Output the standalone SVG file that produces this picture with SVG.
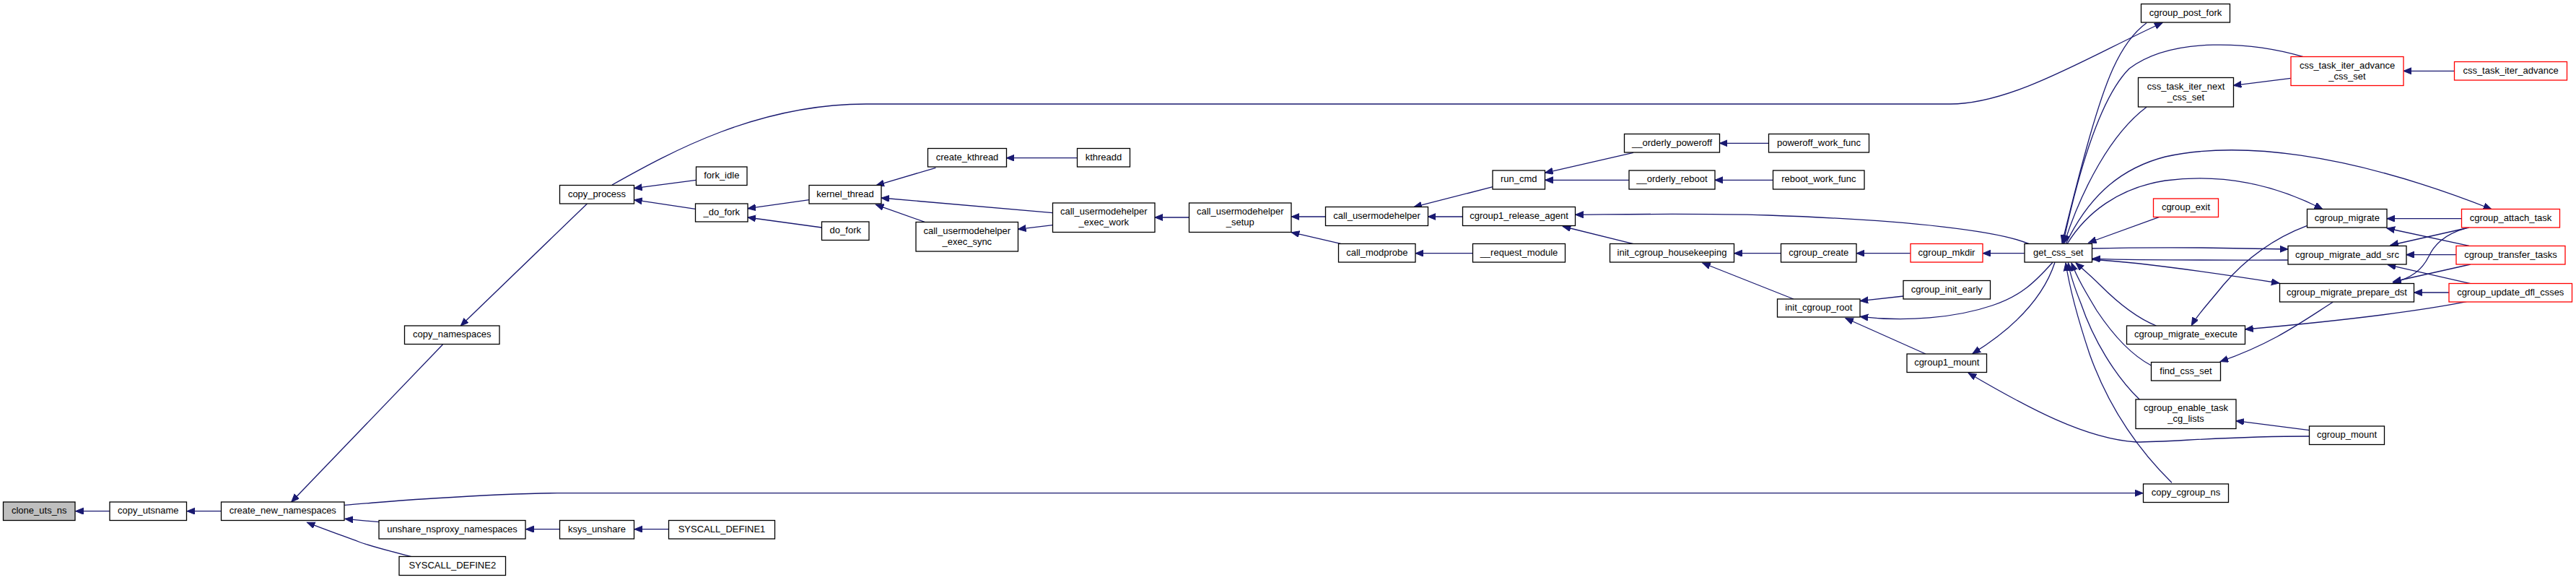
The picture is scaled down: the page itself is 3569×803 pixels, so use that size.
<svg xmlns="http://www.w3.org/2000/svg" width="3569" height="803" viewBox="0 0 3569 803">
<style>
.n rect{fill:#fff;stroke:#000;stroke-width:1.3}
.r rect{stroke:#f00}
.root rect{fill:#bfbfbf}
text{font-family:"Liberation Sans",Arial,Helvetica,sans-serif;font-size:13px;text-anchor:middle;fill:#000}
#edges path{fill:none;stroke:#191970;stroke-width:1.3;marker-end:url(#a)}
</style>
<defs>
<marker id="a" markerWidth="14" markerHeight="12" refX="11" refY="4.5" orient="auto" markerUnits="userSpaceOnUse">
<path d="M0,0 L11,4.5 L0,9 z" fill="#191970" stroke="#191970" stroke-width="1"/>
</marker>
</defs>
<rect width="3569" height="803" fill="#fff"/>
<g id="edges">
<path d="M151.9,707.7 L104.6,707.7"/>
<path d="M306.5,707.7 L259,707.7"/>
<path d="M613.4,477 L403.7,695"/>
<path d="M525,722.7 L478,718.3"/>
<path d="M570,770.7 C540,763 510,755 497,750 C470,740 445,731 425.5,723.3"/>
<path d="M477.2,699.3 C520,696 560,692 600,690 C680,685 730,682.7 772,682.7 L2969,682.7"/>
<path d="M775.3,732.7 L728.5,732.7"/>
<path d="M926.4,732.7 L879,732.7"/>
<path d="M1121.2,276.7 L1036,288.7"/>
<path d="M1138.4,315 L1036,301"/>
<path d="M964.3,249.3 L878.6,260.7"/>
<path d="M963.5,289.3 L878.6,276.7"/>
<path d="M813.5,282 L638.3,451"/>
<path d="M848,256 C930,210 1050,144 1200,144 L2702,144 C2790,144 2900,75 2996,31.5"/>
<path d="M1296.4,232.3 L1214,256.7"/>
<path d="M1492.7,218.7 L1394.4,218.7"/>
<path d="M1458.3,294.7 L1221,274"/>
<path d="M1281.1,307.3 L1213.4,283.3"/>
<path d="M1458.3,311.7 L1410.5,317.3"/>
<path d="M1647.7,301 L1600,301"/>
<path d="M1836.7,300 L1789.3,300"/>
<path d="M1857.4,337.3 L1789.3,321.7"/>
<path d="M2068.2,258.7 L1958.8,286.7"/>
<path d="M2026.5,300 L1978.3,300"/>
<path d="M2040.3,350.7 L1961.1,350.7"/>
<path d="M2263,211.3 L2140.6,239.3"/>
<path d="M2256.9,249.3 L2140.6,249.3"/>
<path d="M2811.3,337.7 C2770,320 2650,305 2450,298 C2340,295 2240,297 2182.7,297.3"/>
<path d="M2263,337.7 L2165.4,313.5"/>
<path d="M2450.5,198.3 L2382.4,198.3"/>
<path d="M2456.6,249.3 L2375.9,249.3"/>
<path d="M2467.3,350.7 L2402.7,350.7"/>
<path d="M2484.9,414 L2358.7,364"/>
<path d="M2646.8,350.7 L2572.2,350.7"/>
<path d="M2804.8,350.7 L2747.1,350.7"/>
<path d="M2637.2,410 L2577.2,416.7"/>
<path d="M2843.9,363.3 C2820,390 2800,410 2760,423 C2710,440 2640,446 2577.2,438.3"/>
<path d="M2667.9,490 L2556.9,440.5"/>
<path d="M2847,363.3 C2835,400 2805,445 2733,489.5"/>
<path d="M3199.6,604 C3080,604 3010,612 2960,612 C2890,608 2810,565 2727.2,516.5"/>
<path d="M3199.6,595.7 L3098,582.7"/>
<path d="M2974,31.7 C2935,60 2915,120 2895,190 C2878,250 2866,300 2857,336.5"/>
<path d="M3190.5,78.3 C3120,58 3010,50 2950,95 C2905,140 2875,260 2858.5,336.5"/>
<path d="M2974,148.3 C2925,185 2885,260 2860,336.5"/>
<path d="M2862,337.7 C2890,280 2930,235 3000,217 C3100,195 3250,210 3451.8,289.5"/>
<path d="M2864,337.7 C2890,295 2935,260 3000,250 C3080,240 3150,255 3217.7,289.5"/>
<path d="M2991.2,300.7 L2893.6,336"/>
<path d="M2898.6,344 C2940,343 3000,342.7 3050,343 L3169.8,345"/>
<path d="M3169.8,360 C3100,360 3000,360.7 2898.6,358.3"/>
<path d="M2898.6,359.5 C2950,362 3050,375 3158,392"/>
<path d="M3009,668.3 C2960,620 2920,560 2895,490 C2875,430 2866,390 2862,364"/>
<path d="M2964.4,553.3 C2930,520 2900,470 2883,420 C2873,395 2868,380 2865.5,364"/>
<path d="M2980.5,506 C2950,490 2925,460 2905,430 C2890,405 2878,385 2870,364"/>
<path d="M2987.4,451 C2960,440 2935,420 2910,395 C2895,380 2885,372 2876,364"/>
<path d="M3400.3,98.3 L3329.9,98.3"/>
<path d="M3173.8,108.3 L3094.3,118.3"/>
<path d="M3410.4,302.7 L3307,302.7"/>
<path d="M3420.9,340.3 L3307,316"/>
<path d="M3420.9,315 L3312,339.5"/>
<path d="M3403.2,352.7 L3333.8,352.7"/>
<path d="M3417.3,315.7 C3385,325 3372,340 3365,355 C3355,375 3340,385 3315.7,391.5"/>
<path d="M3422.8,366 L3315.7,390"/>
<path d="M3422.8,392.7 L3308.4,366.7"/>
<path d="M3393,405 L3344.7,405"/>
<path d="M3196,312.7 C3150,330 3110,360 3080,395 C3060,420 3045,435 3036.3,450.5"/>
<path d="M3417.3,417.7 C3330,435 3200,448 3110.7,456"/>
<path d="M3232.2,418.3 C3190,445 3150,475 3076.2,500.5"/>
</g>
<g id="n_clone_uts_ns" class="n root"><rect x="4.5" y="695" width="99.5" height="25.5"/><text x="54.3" y="711">clone_uts_ns</text></g>
<g id="n_copy_utsname" class="n"><rect x="152" y="695" width="106.5" height="25.5"/><text x="205.3" y="711">copy_utsname</text></g>
<g id="n_create_new_namespaces" class="n"><rect x="306.5" y="695" width="170.5" height="25.5"/><text x="391.8" y="711">create_new_namespaces</text></g>
<g id="n_copy_namespaces" class="n"><rect x="560.5" y="451" width="131.5" height="25.5"/><text x="626.3" y="467">copy_namespaces</text></g>
<g id="n_unshare_nsproxy_namespaces" class="n"><rect x="525" y="720.5" width="203" height="25.5"/><text x="626.5" y="736.5">unshare_nsproxy_namespaces</text></g>
<g id="n_SYSCALL_DEFINE2" class="n"><rect x="553" y="770.5" width="147.5" height="26"/><text x="626.8" y="786.5">SYSCALL_DEFINE2</text></g>
<g id="n_ksys_unshare" class="n"><rect x="775.5" y="720.5" width="103" height="25.5"/><text x="827" y="736.5">ksys_unshare</text></g>
<g id="n_SYSCALL_DEFINE1" class="n"><rect x="926.5" y="720.5" width="147" height="25.5"/><text x="1000" y="736.5">SYSCALL_DEFINE1</text></g>
<g id="n_copy_process" class="n"><rect x="775.5" y="256.5" width="103" height="25.5"/><text x="827" y="272.5">copy_process</text></g>
<g id="n_fork_idle" class="n"><rect x="964.5" y="231" width="70.5" height="25.5"/><text x="999.8" y="247">fork_idle</text></g>
<g id="n__do_fork" class="n"><rect x="963.5" y="282" width="72.5" height="25"/><text x="999.8" y="298">_do_fork</text></g>
<g id="n_kernel_thread" class="n"><rect x="1121" y="256.5" width="100" height="25.5"/><text x="1171" y="272.5">kernel_thread</text></g>
<g id="n_do_fork" class="n"><rect x="1138.5" y="307" width="65.5" height="25.5"/><text x="1171.3" y="323">do_fork</text></g>
<g id="n_create_kthread" class="n"><rect x="1285.5" y="205.5" width="109" height="25.5"/><text x="1340" y="221.5">create_kthread</text></g>
<g id="n_kthreadd" class="n"><rect x="1492.5" y="205.5" width="73" height="25.5"/><text x="1529" y="221.5">kthreadd</text></g>
<g id="n_call_usermodehelper_exec_sync" class="n"><rect x="1269" y="307.5" width="141.5" height="40.5"/><text x="1339.8" y="323.5">call_usermodehelper</text><text x="1339.8" y="338.5">_exec_sync</text></g>
<g id="n_call_usermodehelper_exec_work" class="n"><rect x="1458.5" y="281" width="141.5" height="40.5"/><text x="1529.3" y="297">call_usermodehelper</text><text x="1529.3" y="312">_exec_work</text></g>
<g id="n_call_usermodehelper_setup" class="n"><rect x="1647.5" y="281" width="141.5" height="40.5"/><text x="1718.3" y="297">call_usermodehelper</text><text x="1718.3" y="312">_setup</text></g>
<g id="n_call_usermodehelper" class="n"><rect x="1836.5" y="286.5" width="142" height="26"/><text x="1907.5" y="302.5">call_usermodehelper</text></g>
<g id="n_call_modprobe" class="n"><rect x="1854.5" y="337.5" width="106.5" height="25.5"/><text x="1907.8" y="353.5">call_modprobe</text></g>
<g id="n_run_cmd" class="n"><rect x="2068" y="236" width="72.5" height="26"/><text x="2104.3" y="252">run_cmd</text></g>
<g id="n_cgroup1_release_agent" class="n"><rect x="2026.5" y="286.5" width="156" height="26"/><text x="2104.5" y="302.5">cgroup1_release_agent</text></g>
<g id="n___request_module" class="n"><rect x="2040.5" y="337.5" width="128" height="25.5"/><text x="2104.5" y="353.5">__request_module</text></g>
<g id="n___orderly_poweroff" class="n"><rect x="2250.5" y="185.5" width="132" height="25.5"/><text x="2316.5" y="201.5">__orderly_poweroff</text></g>
<g id="n___orderly_reboot" class="n"><rect x="2257" y="236" width="119" height="26"/><text x="2316.5" y="252">__orderly_reboot</text></g>
<g id="n_init_cgroup_housekeeping" class="n"><rect x="2230.5" y="337.5" width="172" height="25.5"/><text x="2316.5" y="353.5">init_cgroup_housekeeping</text></g>
<g id="n_poweroff_work_func" class="n"><rect x="2450.5" y="185.5" width="139" height="25.5"/><text x="2520" y="201.5">poweroff_work_func</text></g>
<g id="n_reboot_work_func" class="n"><rect x="2456.5" y="236" width="126.5" height="26"/><text x="2519.8" y="252">reboot_work_func</text></g>
<g id="n_cgroup_create" class="n"><rect x="2467.5" y="337.5" width="104.5" height="25.5"/><text x="2519.8" y="353.5">cgroup_create</text></g>
<g id="n_init_cgroup_root" class="n"><rect x="2462.5" y="414" width="114.5" height="25"/><text x="2519.8" y="430">init_cgroup_root</text></g>
<g id="n_cgroup_mkdir" class="n r"><rect x="2647" y="337.5" width="100" height="25.5"/><text x="2697" y="353.5">cgroup_mkdir</text></g>
<g id="n_cgroup_init_early" class="n"><rect x="2637" y="388.5" width="120.5" height="25.5"/><text x="2697.3" y="404.5">cgroup_init_early</text></g>
<g id="n_cgroup1_mount" class="n"><rect x="2642" y="490" width="110.5" height="25.5"/><text x="2697.3" y="506">cgroup1_mount</text></g>
<g id="n_get_css_set" class="n"><rect x="2805" y="337.5" width="93.5" height="25.5"/><text x="2851.8" y="353.5">get_css_set</text></g>
<g id="n_cgroup_post_fork" class="n"><rect x="2966.5" y="5.5" width="123" height="25.5"/><text x="3028" y="21.5">cgroup_post_fork</text></g>
<g id="n_css_task_iter_next_css_set" class="n"><rect x="2962.5" y="107.5" width="132" height="40.5"/><text x="3028.5" y="123.5">css_task_iter_next</text><text x="3028.5" y="138.5">_css_set</text></g>
<g id="n_cgroup_exit" class="n r"><rect x="2983.5" y="275" width="90" height="25.5"/><text x="3028.5" y="291">cgroup_exit</text></g>
<g id="n_cgroup_migrate_execute" class="n"><rect x="2946.5" y="451" width="164" height="25.5"/><text x="3028.5" y="467">cgroup_migrate_execute</text></g>
<g id="n_find_css_set" class="n"><rect x="2980.5" y="501.5" width="96" height="25.5"/><text x="3028.5" y="517.5">find_css_set</text></g>
<g id="n_cgroup_enable_task_cg_lists" class="n"><rect x="2959" y="553" width="139" height="40.5"/><text x="3028.5" y="569">cgroup_enable_task</text><text x="3028.5" y="584">_cg_lists</text></g>
<g id="n_copy_cgroup_ns" class="n"><rect x="2969.5" y="670" width="118" height="25.5"/><text x="3028.5" y="686">copy_cgroup_ns</text></g>
<g id="n_css_task_iter_advance_css_set" class="n r"><rect x="3174" y="78.5" width="156" height="40"/><text x="3252" y="94.5">css_task_iter_advance</text><text x="3252" y="109.5">_css_set</text></g>
<g id="n_cgroup_migrate" class="n"><rect x="3196.5" y="289.5" width="110.5" height="25.5"/><text x="3251.8" y="305.5">cgroup_migrate</text></g>
<g id="n_cgroup_migrate_add_src" class="n"><rect x="3170" y="340.5" width="164" height="25.5"/><text x="3252" y="356.5">cgroup_migrate_add_src</text></g>
<g id="n_cgroup_migrate_prepare_dst" class="n"><rect x="3158.5" y="392.5" width="186" height="25.5"/><text x="3251.5" y="408.5">cgroup_migrate_prepare_dst</text></g>
<g id="n_cgroup_mount" class="n"><rect x="3199.5" y="590" width="104" height="25.5"/><text x="3251.5" y="606">cgroup_mount</text></g>
<g id="n_css_task_iter_advance" class="n r"><rect x="3400.5" y="85.5" width="156" height="25.5"/><text x="3478.5" y="101.5">css_task_iter_advance</text></g>
<g id="n_cgroup_attach_task" class="n r"><rect x="3410.5" y="289.5" width="136" height="25.5"/><text x="3478.5" y="305.5">cgroup_attach_task</text></g>
<g id="n_cgroup_transfer_tasks" class="n r"><rect x="3403" y="340.5" width="151" height="25.5"/><text x="3478.5" y="356.5">cgroup_transfer_tasks</text></g>
<g id="n_cgroup_update_dfl_csses" class="n r"><rect x="3393" y="392.5" width="170.5" height="25.5"/><text x="3478.3" y="408.5">cgroup_update_dfl_csses</text></g>
</svg>
